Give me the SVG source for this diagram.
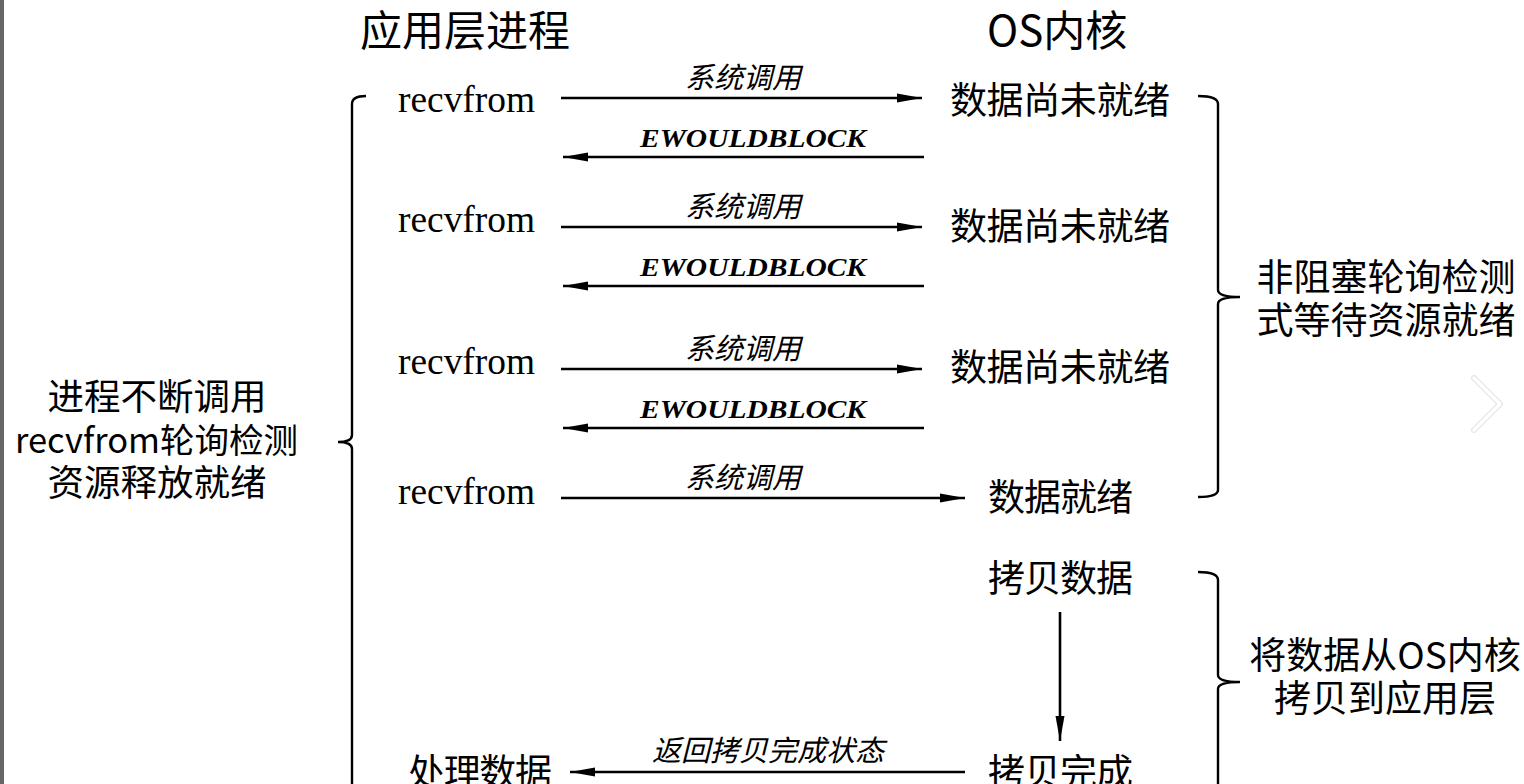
<svg xmlns="http://www.w3.org/2000/svg" width="1524" height="784" viewBox="0 0 1524 784">
<style>
.cjk{font-family:"Noto Sans CJK SC","Noto Sans",sans-serif;fill:#000}
.big{font-size:42px}
.t{font-size:37px}
.lab{font-size:29px;font-style:italic}
.rv{font-family:"Liberation Serif","Times New Roman",serif;font-size:37px;fill:#000}
.ew{font-family:"Liberation Serif","Times New Roman",serif;font-size:26px;font-weight:bold;font-style:italic;fill:#000}
.ln{stroke:#000;stroke-width:2.6;fill:none}
.br{stroke:#000;stroke-width:2.4;fill:none}
</style>
<defs>
<marker id="ah" markerUnits="userSpaceOnUse" markerWidth="26" markerHeight="10" refX="25" refY="5" orient="auto">
<path d="M0,0.5 L25,5 L0,9.5 Z" fill="#000"/>
</marker>
</defs>
<rect width="1524" height="784" fill="#fff"/>
<rect x="0" y="0" width="4" height="784" fill="#666"/>
<g id="titles">
<text class="cjk big" x="360" y="46">应用层进程</text>
<text class="cjk big" x="987" y="46">OS内核</text>
</g>
<g id="app">
<text class="rv" x="398" y="112" textLength="137" lengthAdjust="spacingAndGlyphs">recvfrom</text>
<text class="rv" x="398" y="232" textLength="137" lengthAdjust="spacingAndGlyphs">recvfrom</text>
<text class="rv" x="398" y="374" textLength="137" lengthAdjust="spacingAndGlyphs">recvfrom</text>
<text class="rv" x="398" y="504" textLength="137" lengthAdjust="spacingAndGlyphs">recvfrom</text>
<text class="cjk t" x="408" y="786" textLength="144">处理数据</text>
</g>
<g id="kernel">
<text class="cjk t" x="950" y="114" textLength="220">数据尚未就绪</text>
<text class="cjk t" x="950" y="240" textLength="220">数据尚未就绪</text>
<text class="cjk t" x="950" y="381" textLength="220">数据尚未就绪</text>
<text class="cjk t" x="988" y="511" textLength="145">数据就绪</text>
<text class="cjk t" x="988" y="592" textLength="145">拷贝数据</text>
<text class="cjk t" x="988" y="786" textLength="145">拷贝完成</text>
</g>
<g id="connectors">
<line class="ln" x1="561" y1="98" x2="922" y2="98" marker-end="url(#ah)"/>
<line class="ln" x1="924" y1="157" x2="563" y2="157" marker-end="url(#ah)"/>
<line class="ln" x1="561" y1="227" x2="922" y2="227" marker-end="url(#ah)"/>
<line class="ln" x1="924" y1="286" x2="563" y2="286" marker-end="url(#ah)"/>
<line class="ln" x1="561" y1="369" x2="922" y2="369" marker-end="url(#ah)"/>
<line class="ln" x1="924" y1="428" x2="563" y2="428" marker-end="url(#ah)"/>
<line class="ln" x1="561" y1="498" x2="965" y2="498" marker-end="url(#ah)"/>
<line class="ln" x1="1060" y1="612" x2="1060" y2="741" marker-end="url(#ah)"/>
<line class="ln" x1="965" y1="772" x2="570" y2="772" marker-end="url(#ah)"/>
<text class="cjk lab" x="743" y="88" text-anchor="middle">系统调用</text>
<text class="ew" x="640" y="147" textLength="226" lengthAdjust="spacingAndGlyphs">EWOULDBLOCK</text>
<text class="cjk lab" x="743" y="217" text-anchor="middle">系统调用</text>
<text class="ew" x="640" y="276" textLength="226" lengthAdjust="spacingAndGlyphs">EWOULDBLOCK</text>
<text class="cjk lab" x="743" y="359" text-anchor="middle">系统调用</text>
<text class="ew" x="640" y="418" textLength="226" lengthAdjust="spacingAndGlyphs">EWOULDBLOCK</text>
<text class="cjk lab" x="743" y="488" text-anchor="middle">系统调用</text>
<text class="cjk lab" x="768" y="761" text-anchor="middle">返回拷贝完成状态</text>
</g>
<g id="left-bracket">
<path class="br" d="M366,96 Q352,96 352,104 L352,435 Q352,442 338,442 Q352,442 352,449 L352,790"/>
<text class="cjk" x="157" y="410" text-anchor="middle" font-size="36.5">进程不断调用</text>
<text class="cjk" x="15" y="453" font-size="34" textLength="283" lengthAdjust="spacingAndGlyphs">recvfrom轮询检测</text>
<text class="cjk" x="157" y="496" text-anchor="middle" font-size="36.5">资源释放就绪</text>
</g>
<g id="brace-polling">
<path class="br" d="M1198,96 Q1218,96 1218,104 L1218,290 Q1218,297 1240,297 Q1218,297 1218,304 L1218,490 Q1218,497 1198,497"/>
<text class="cjk t" x="1386" y="291" text-anchor="middle">非阻塞轮询检测</text>
<text class="cjk t" x="1386" y="334" text-anchor="middle">式等待资源就绪</text>
</g>
<g id="brace-copy">
<path class="br" d="M1198,572 Q1218,572 1218,580 L1218,675 Q1218,682 1240,682 Q1218,682 1218,689 L1218,790"/>
<text class="cjk t" x="1385" y="669" text-anchor="middle">将数据从OS内核</text>
<text class="cjk t" x="1385" y="712" text-anchor="middle">拷贝到应用层</text>
</g>
<g id="chevron">
<polyline points="1474,378 1500,404 1474,430" fill="none" stroke="#e6e6e6" stroke-width="6" stroke-linecap="round" stroke-linejoin="round"/>
<polyline points="1474,378 1500,404 1474,430" fill="none" stroke="#fff" stroke-width="3.5" stroke-linecap="round" stroke-linejoin="round"/>
</g>
</svg>
